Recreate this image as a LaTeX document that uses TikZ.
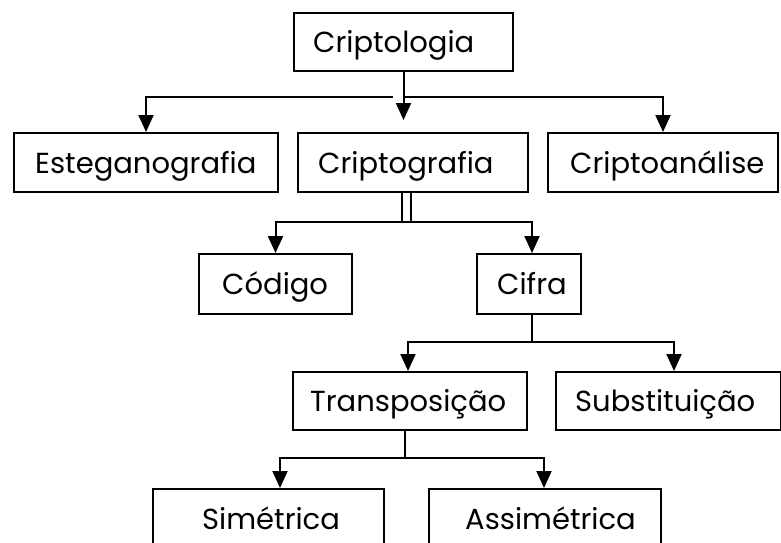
\documentclass[tikz,border=0pt]{standalone}
\usepackage{fontspec}
\setmainfont{Poppins}
\usetikzlibrary{arrows.meta}

% box with its label set a fixed distance from the left side
% #1 name, #2 left, #3 top, #4 width, #5 height, #6 left padding, #7 text
\newcommand\labelbox[7]{%
  \node[boxst, minimum width=#4pt, minimum height=#5pt, anchor=north west] (#1) at (#2,#3) {};
  \node[txtst, anchor=west] (#1-t) at ([xshift=#6pt]#1.west) {#7};
}

\begin{document}
\begin{tikzpicture}[x=1pt, y=-1pt,
  boxst/.style={draw, line width=2pt, inner sep=0pt},
  txtst/.style={inner sep=0pt, text height=21.5pt, text depth=0pt,
                font=\fontsize{29}{34}\selectfont},
  link/.style={line width=2pt},
  arr/.style={link, -{Triangle[length=17pt, width=15pt]}}]
\useasboundingbox (0,0) rectangle (781,542);

% boxes
\labelbox{criptologia}{293}{12}{219}{58}{20}{Criptologia}
\labelbox{esteg}{13}{132}{264}{59}{22}{Esteganografia}
\labelbox{criptografia}{297}{132}{230}{59}{21}{Criptografia}
\labelbox{analise}{547}{132}{230}{59}{23}{Criptoanálise}
\labelbox{codigo}{198}{253}{153}{60}{24}{Código}
\labelbox{cifra}{476}{253}{104}{60}{21}{Cifra}
\labelbox{transp}{292}{371}{234}{58}{18}{Transposição}
\labelbox{subst}{555}{371}{225}{58}{20}{Substituição}
\labelbox{sim}{152}{488}{231}{59}{50}{Simétrica}
\labelbox{assim}{428}{488}{232}{59}{37}{Assimétrica}

% bus lines and branch positions
\coordinate (bus1) at (0,97);
\coordinate (gapL) at (393,97);
\coordinate (gapR) at (405,97);
\coordinate (midstop) at (0,120);
\coordinate (bus2) at (0,222);
\coordinate (dbl) at (406.5,0);
\coordinate (cifX) at (532,0);
\coordinate (bus3) at (0,342);
\coordinate (tX) at (408,0);
\coordinate (sX) at (674,0);
\coordinate (tdX) at (405,0);
\coordinate (bus4) at (0,458);
\coordinate (simX) at (280,0);
\coordinate (assX) at (544,0);

% Criptologia
\draw[arr] (criptologia.south) -- (criptologia.south |- midstop);
\draw[arr] (gapL) -- (bus1 -| esteg.north) -- (esteg.north);
\draw[arr] (gapR) -- (bus1 -| analise.north) -- (analise.north);

% Criptografia
\draw[link, double, double distance=7pt] (criptografia.south -| dbl) -- (bus2 -| dbl);
\draw[arr] (bus2 -| dbl) -- (bus2 -| codigo.north) -- (codigo.north);
\draw[arr] (bus2 -| dbl) -- (bus2 -| cifX) -- (cifX |- cifra.north);

% Cifra
\draw[link] (cifX |- cifra.south) -- (cifX |- bus3);
\draw[arr] (bus3 -| cifX) -- (bus3 -| tX) -- (tX |- transp.north);
\draw[arr] (bus3 -| cifX) -- (bus3 -| sX) -- (sX |- subst.north);

% Transposicao
\draw[link] (tdX |- transp.south) -- (tdX |- bus4);
\draw[arr] (bus4 -| tdX) -- (bus4 -| simX) -- (simX |- sim.north);
\draw[arr] (bus4 -| tdX) -- (bus4 -| assX) -- (assX |- assim.north);
\end{tikzpicture}
\end{document}
